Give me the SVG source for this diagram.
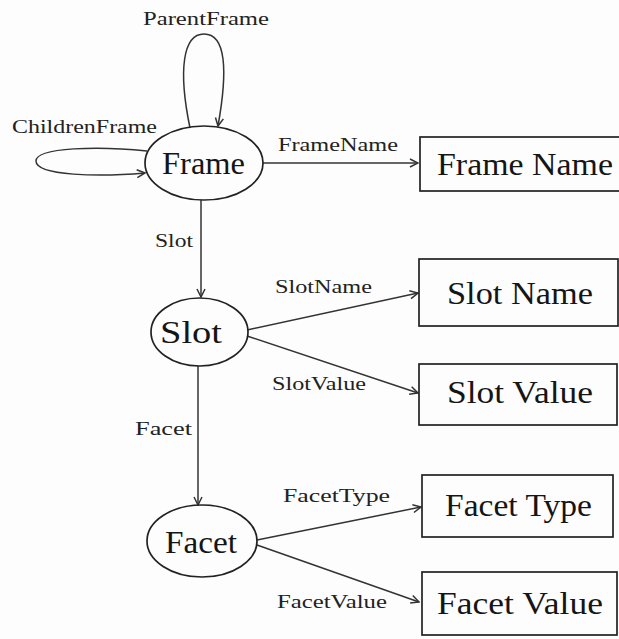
<svg xmlns="http://www.w3.org/2000/svg" width="619" height="639" viewBox="0 0 619 639">
<style>
.bg{fill:#fdfdfd}
.n{fill:none;stroke:#222;stroke-width:1.7}
.e{fill:none;stroke:#333;stroke-width:1.5}
.big{font-family:"Liberation Serif","Times New Roman",serif;font-size:32px;fill:#151515}
.lab{font-family:"Liberation Serif","Times New Roman",serif;font-size:18px;fill:#222}
</style>
<defs>
<marker id="arr" markerWidth="10" markerHeight="10" refX="9" refY="5" orient="auto" markerUnits="userSpaceOnUse">
<path d="M1,1 L9,5 L1,9" fill="none" stroke="#333" stroke-width="1.5"/>
</marker>
</defs>
<rect class="bg" x="0" y="0" width="619" height="639"/>
<g id="connectors">
<path class="e" d="M190,128 C178,70 183,34 204,34 C226,34 228,70 218,126" marker-end="url(#arr)"/>
<text class="lab" x="143" y="25" textLength="126" lengthAdjust="spacingAndGlyphs">ParentFrame</text>
<path class="e" d="M147,151 C100,146 36,147 36,161 C36,176 100,177 145,173" marker-end="url(#arr)"/>
<text class="lab" x="12" y="133" textLength="145" lengthAdjust="spacingAndGlyphs">ChildrenFrame</text>
<line class="e" x1="263" y1="163" x2="418" y2="163" marker-end="url(#arr)"/>
<text class="lab" x="278" y="151" textLength="120" lengthAdjust="spacingAndGlyphs">FrameName</text>
<line class="e" x1="201" y1="200" x2="201" y2="297" marker-end="url(#arr)"/>
<text class="lab" x="155" y="247" textLength="38" lengthAdjust="spacingAndGlyphs">Slot</text>
<line class="e" x1="247" y1="330" x2="418" y2="293" marker-end="url(#arr)"/>
<text class="lab" x="275" y="293" textLength="97" lengthAdjust="spacingAndGlyphs">SlotName</text>
<line class="e" x1="247" y1="336" x2="418" y2="393" marker-end="url(#arr)"/>
<text class="lab" x="272" y="390" textLength="94" lengthAdjust="spacingAndGlyphs">SlotValue</text>
<line class="e" x1="198" y1="366" x2="198" y2="505" marker-end="url(#arr)"/>
<text class="lab" x="135" y="435" textLength="57" lengthAdjust="spacingAndGlyphs">Facet</text>
<line class="e" x1="257" y1="540" x2="421" y2="507" marker-end="url(#arr)"/>
<text class="lab" x="283" y="502" textLength="107" lengthAdjust="spacingAndGlyphs">FacetType</text>
<line class="e" x1="257" y1="545" x2="419" y2="602" marker-end="url(#arr)"/>
<text class="lab" x="277" y="608" textLength="110" lengthAdjust="spacingAndGlyphs">FacetValue</text>
</g>
<g id="frame">
<ellipse class="n" cx="204" cy="163" rx="59" ry="37"/>
<text class="big" x="162" y="174" textLength="83" lengthAdjust="spacingAndGlyphs">Frame</text>
</g>
<g id="slot">
<ellipse class="n" cx="199.5" cy="332" rx="48.5" ry="34"/>
<text class="big" x="160" y="343" textLength="62" lengthAdjust="spacingAndGlyphs">Slot</text>
</g>
<g id="facet">
<ellipse class="n" cx="202" cy="541" rx="55" ry="36"/>
<text class="big" x="165" y="553" textLength="72" lengthAdjust="spacingAndGlyphs">Facet</text>
</g>
<g id="frame-name">
<rect class="n" x="420" y="137" width="220" height="54"/>
<text class="big" x="437" y="175" textLength="176" lengthAdjust="spacingAndGlyphs">Frame Name</text>
</g>
<g id="slot-name">
<rect class="n" x="419" y="259" width="199" height="67"/>
<text class="big" x="447" y="304" textLength="146" lengthAdjust="spacingAndGlyphs">Slot Name</text>
</g>
<g id="slot-value">
<rect class="n" x="419" y="364" width="198" height="61"/>
<text class="big" x="447" y="403" textLength="146" lengthAdjust="spacingAndGlyphs">Slot Value</text>
</g>
<g id="facet-type">
<rect class="n" x="422" y="475" width="191" height="62"/>
<text class="big" x="445" y="516" textLength="147" lengthAdjust="spacingAndGlyphs">Facet Type</text>
</g>
<g id="facet-value">
<rect class="n" x="422" y="572" width="195" height="63"/>
<text class="big" x="437" y="614" textLength="166" lengthAdjust="spacingAndGlyphs">Facet Value</text>
</g>
</svg>
